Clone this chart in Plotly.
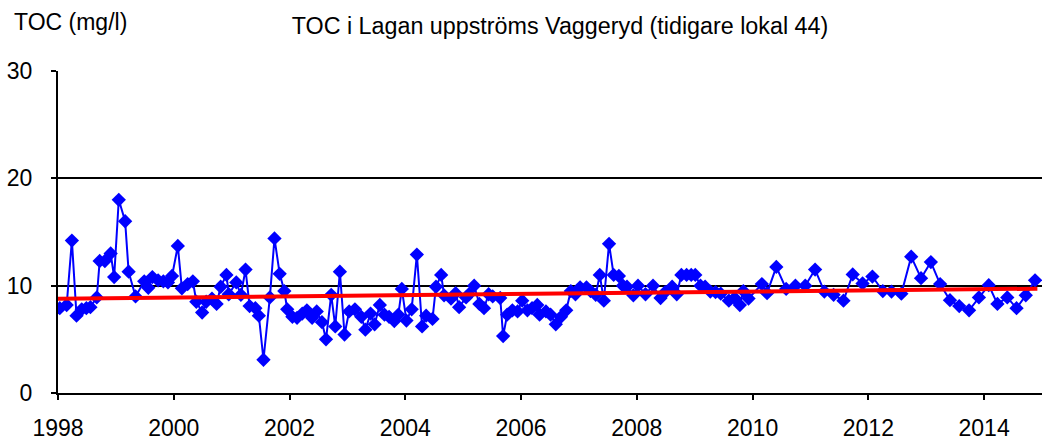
import plotly.graph_objects as go

# TOC-mätningar (decimalår, mg/l) avlästa från originaldiagrammet
ar = [1998.03, 1998.15, 1998.24, 1998.32, 1998.41, 1998.49, 1998.56, 1998.67, 1998.72, 1998.81,
      1998.91, 1998.97, 1999.05, 1999.16, 1999.22, 1999.34, 1999.49, 1999.56, 1999.63, 1999.73,
      1999.82, 1999.90, 1999.97, 2000.07, 2000.14, 2000.24, 2000.33, 2000.39, 2000.49, 2000.56,
      2000.66, 2000.74, 2000.81, 2000.91, 2000.95, 2001.08, 2001.16, 2001.24, 2001.31, 2001.41,
      2001.47, 2001.55, 2001.66, 2001.74, 2001.83, 2001.91, 2001.96, 2002.05, 2002.13, 2002.22,
      2002.30, 2002.39, 2002.47, 2002.56, 2002.63, 2002.72, 2002.79, 2002.87, 2002.95, 2003.03,
      2003.13, 2003.24, 2003.31, 2003.40, 2003.47, 2003.56, 2003.64, 2003.72, 2003.81, 2003.88,
      2003.94, 2004.02, 2004.11, 2004.20, 2004.29, 2004.36, 2004.47, 2004.53, 2004.62, 2004.67,
      2004.79, 2004.87, 2004.93, 2005.05, 2005.10, 2005.19, 2005.28, 2005.36, 2005.44, 2005.51,
      2005.64, 2005.69, 2005.76, 2005.85, 2005.94, 2006.02, 2006.11, 2006.19, 2006.28, 2006.32,
      2006.43, 2006.51, 2006.60, 2006.69, 2006.78, 2006.86, 2006.94, 2007.02, 2007.13, 2007.20,
      2007.29, 2007.36, 2007.43, 2007.52, 2007.60, 2007.69, 2007.76, 2007.83, 2007.94, 2008.02,
      2008.15, 2008.28, 2008.41, 2008.49, 2008.61, 2008.69, 2008.77, 2008.86, 2008.94, 2009.01,
      2009.10, 2009.18, 2009.27, 2009.36, 2009.45, 2009.59, 2009.69, 2009.78, 2009.84, 2009.93,
      2010.16, 2010.25, 2010.41, 2010.58, 2010.74, 2010.91, 2011.08, 2011.24, 2011.40, 2011.57,
      2011.73, 2011.90, 2012.07, 2012.25, 2012.40, 2012.57, 2012.74, 2012.91, 2013.08, 2013.24,
      2013.41, 2013.57, 2013.74, 2013.91, 2014.08, 2014.23, 2014.40, 2014.56, 2014.72, 2014.88]

toc = [7.9, 8.2, 14.2, 7.2, 7.8, 7.9, 8.0, 8.9, 12.3, 12.3,
       13.0, 10.8, 18.0, 16.0, 11.3, 9.0, 10.4, 9.8, 10.8, 10.5,
       10.4, 10.3, 10.9, 13.7, 9.75, 10.15, 10.4, 8.5, 7.5, 8.5,
       8.8, 8.3, 9.9, 11.0, 9.2, 10.3, 9.15, 11.5, 8.1, 7.9,
       7.2, 3.1, 8.9, 14.4, 11.1, 9.5, 7.8, 7.1, 7.0, 7.4,
       7.7, 7.0, 7.6, 6.6, 5.0, 9.15, 6.2, 11.3, 5.45, 7.6,
       7.8, 7.1, 5.9, 7.4, 6.4, 8.2, 7.3, 7.1, 6.7, 7.3,
       9.7, 6.75, 7.8, 12.9, 6.2, 7.2, 6.9, 9.9, 11.0, 9.1,
       8.8, 9.3, 8.0, 8.9, 9.2, 10.0, 8.3, 7.9, 9.2, 9.0,
       8.85, 5.3, 7.3, 7.7, 7.6, 8.6, 7.7, 7.9, 8.2, 7.3,
       7.6, 7.3, 6.4, 7.1, 7.7, 9.5, 9.2, 9.85, 9.85, 9.5,
       9.15, 11.0, 8.6, 13.9, 11.0, 10.9, 10.0, 9.9, 9.1, 10.0,
       9.2, 10.0, 8.85, 9.4, 9.9, 9.2, 11.0, 11.0, 11.0, 11.0,
       10.0, 9.9, 9.45, 9.4, 9.25, 8.6, 8.85, 8.2, 9.5, 8.8,
       10.15, 9.3, 11.75, 9.7, 10.0, 10.0, 11.5, 9.45, 9.15, 8.6,
       11.05, 10.2, 10.85, 9.5, 9.45, 9.25, 12.7, 10.7, 12.2, 10.15,
       8.65, 8.1, 7.7, 8.9, 10.05, 8.3, 8.9, 7.9, 9.1, 10.5]

# linjär trend
trend_ar = [1998.0, 2014.92]
trend_toc = [8.78, 9.72]

x_ticks = [1998, 2000, 2002, 2004, 2006, 2008, 2010, 2012, 2014]
y_ticks = [0, 10, 20, 30]

font = dict(family='Liberation Sans, Arial, sans-serif', size=23, color='black')

fig = go.Figure()
fig.add_trace(go.Scatter(x=ar, y=toc, mode='lines+markers',
                         line=dict(color='#0000FF', width=2),
                         marker=dict(symbol='diamond', size=11, color='#0000FF'),
                         showlegend=False))
fig.add_trace(go.Scatter(x=trend_ar, y=trend_toc, mode='lines',
                         line=dict(color='#FF0000', width=4),
                         showlegend=False))

fig.update_layout(width=1042, height=441, margin=dict(l=58, r=0, t=71, b=41),
                  paper_bgcolor='white', plot_bgcolor='white', font=font,
                  title=dict(text='TOC i Lagan uppströms Vaggeryd (tidigare lokal 44)',
                             x=560 / 1042, xanchor='center', xref='container',
                             y=1 - 26 / 441, yanchor='middle', yref='container',
                             font=dict(size=23.3)))
fig.add_annotation(text='TOC (mg/l)', xref='paper', yref='paper', x=-46 / 984, y=1 + 50 / 329,
                   xanchor='left', yanchor='middle', showarrow=False, font=dict(size=23))

fig.update_xaxes(range=[1998, 2015], tickvals=x_ticks, ticktext=[str(t) for t in x_ticks],
                 showgrid=False, zeroline=False, showline=True, linecolor='black', linewidth=2,
                 ticks='outside', ticklen=5, tickwidth=1.5, tickcolor='black',
                 ticklabelstandoff=8)
fig.update_yaxes(range=[0, 30], tickvals=y_ticks,
                 showgrid=True, gridcolor='black', gridwidth=1.5, zeroline=False,
                 showline=True, linecolor='black', linewidth=2,
                 ticks='outside', ticklen=5, tickwidth=1.5, tickcolor='black',
                 ticklabelstandoff=14)

fig.write_html("out.html", config={'displayModeBar': False},
               post_script="document.body.style.margin='0';")
